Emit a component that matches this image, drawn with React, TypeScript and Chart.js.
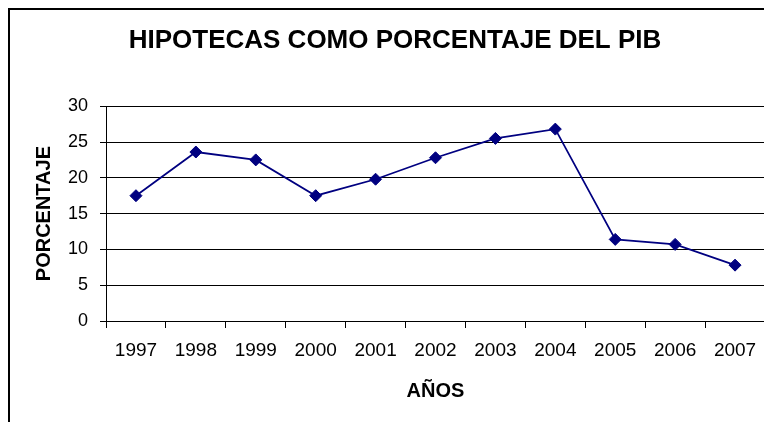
import React, { useEffect, useRef } from "react";
import { Chart, registerables } from "chart.js";

Chart.register(...registerables);

const years = ["1997", "1998", "1999", "2000", "2001", "2002", "2003", "2004", "2005", "2006", "2007"];
const hipotecas = [17.5, 23.6, 22.5, 17.5, 19.8, 22.8, 25.5, 26.8, 11.4, 10.7, 7.8];
const titleText = "HIPOTECAS COMO PORCENTAJE DEL PIB";
const xTitle = "AÑOS";
const yTitle = "PORCENTAJE";

const FONT = "'Liberation Sans', Arial, Helvetica, sans-serif";

const plotFrame = {
  id: "plotFrame",
  afterDraw(chart: any) {
    const { ctx, chartArea } = chart;
    ctx.save();
    ctx.strokeStyle = "#555";
    ctx.lineWidth = 1;
    ctx.beginPath();
    const x = Math.round(chartArea.right) - 0.5;
    ctx.moveTo(x, chartArea.top);
    ctx.lineTo(x, chartArea.bottom + 7);
    ctx.stroke();
    ctx.restore();
  },
};

export default function App() {
  const ref = useRef<HTMLCanvasElement | null>(null);

  useEffect(() => {
    document.documentElement.style.overflow = "hidden";
    document.body.style.overflow = "hidden";
    if (!ref.current) return;
    const chart = new Chart(ref.current, {
      type: "line",
      data: {
        labels: years,
        datasets: [
          {
            label: "Hipotecas",
            data: hipotecas,
            borderColor: "#000080",
            backgroundColor: "#000080",
            borderWidth: 1.75,
            pointStyle: "rectRot",
            pointRadius: 6,
            pointBorderWidth: 1,
            pointBackgroundColor: "#000080",
            pointBorderColor: "#000080",
            tension: 0,
            fill: false,
          },
        ],
      },
      options: {
        responsive: false,
        animation: false,
        devicePixelRatio: 1,
        layout: { padding: { left: 10, right: 2, top: 0, bottom: 0 } },
        plugins: {
          legend: { display: false },
          tooltip: { enabled: false },
          title: {
            display: true,
            text: titleText,
            color: "#000",
            font: { family: FONT, size: 26, weight: "bold", lineHeight: 1.2 },
            padding: { top: 15, bottom: 50 },
          },
        },
        scales: {
          x: {
            type: "category",
            offset: true,
            afterFit: (scale: any) => {
              scale.height = 101;
            },
            grid: {
              offset: true,
              display: true,
              drawOnChartArea: false,
              lineWidth: 1,
              tickLength: 7,
              tickColor: "#000",
              tickWidth: 1,
            },
            border: { display: true, color: "#000", width: 1 },
            ticks: {
              color: "#000",
              font: { family: FONT, size: 19 },
              padding: 11,
              maxRotation: 0,
              autoSkip: false,
            },
            title: {
              display: true,
              text: xTitle,
              color: "#000",
              font: { family: FONT, size: 20, weight: "bold", lineHeight: 1.2 },
              padding: { top: 0, bottom: 19 },
            },
          },
          y: {
            min: 0,
            max: 30,
            afterFit: (scale: any) => {
              scale.width = 86;
            },
            grid: {
              color: "#000",
              lineWidth: 1,
              tickLength: 6,
              tickColor: "#000",
            },
            border: { display: true, color: "#000", width: 1 },
            ticks: {
              stepSize: 5,
              color: "#000",
              font: { family: FONT, size: 18 },
              padding: 12,
            },
            title: {
              display: true,
              text: yTitle,
              color: "#000",
              font: { family: FONT, size: 20, weight: "bold", lineHeight: 1.2 },
              padding: { top: 12, bottom: 0 },
            },
          },
        },
      },
      plugins: [plotFrame],
    });
    return () => chart.destroy();
  }, []);

  return (
    <div
      style={{
        borderTop: "2px solid #000",
        borderLeft: "2px solid #000",
        width: 762,
        height: 412,
        overflow: "hidden",
        background: "#fff",
      }}
    >
      <canvas ref={ref} width={762} height={412} style={{ display: "block" }} />
    </div>
  );
}
